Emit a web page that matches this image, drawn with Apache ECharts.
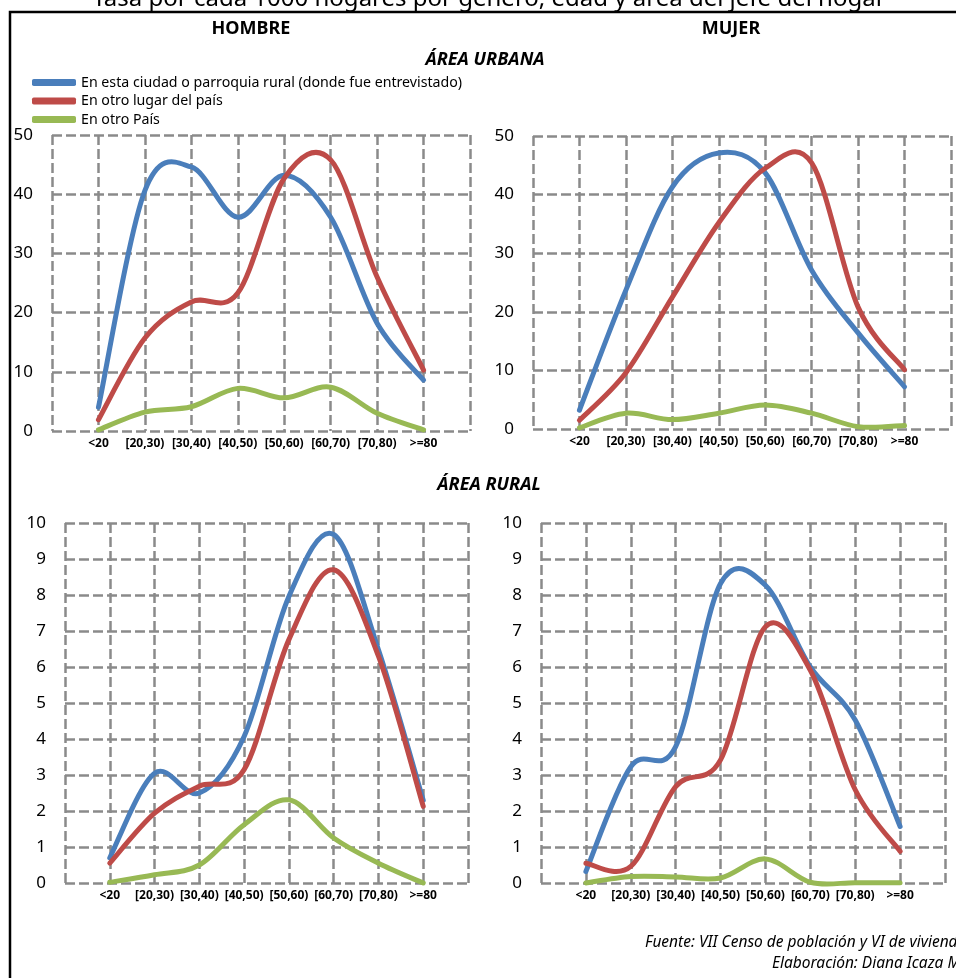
<!DOCTYPE html>
<html>
<head>
<meta charset="utf-8">
<script src="https://cdn.jsdelivr.net/npm/echarts@6/dist/echarts.min.js"></script>
<style>
html,body{margin:0;padding:0;background:#fff;}
#chart{width:956px;height:978px;}
</style>
</head>
<body>
<div id="chart"></div>
<script>
const categories = ['<20', '[20,30)', '[30,40)', '[40,50)', '[50,60)', '[60,70)', '[70,80)', '>=80'];
const seriesNames = ['En esta ciudad o parroquia rural (donde fue entrevistado)', 'En otro lugar del país', 'En otro País'];
const seriesColors = ['#4a7ebb', '#be4b48', '#98b954'];

// ÁREA URBANA - HOMBRE
const urbanMenHere    = [4.0, 40.6, 44.6, 36.1, 43.2, 36.1, 18.2, 8.6];
const urbanMenCountry = [1.9, 15.7, 21.8, 23.3, 42.7, 45.8, 26.0, 10.3];
const urbanMenAbroad  = [0.2, 3.2, 4.1, 7.2, 5.6, 7.4, 3.0, 0.2];
// ÁREA URBANA - MUJER
const urbanWomenHere    = [3.2, 23.7, 41.3, 47.1, 43.7, 27.1, 16.4, 7.2];
const urbanWomenCountry = [1.5, 9.6, 22.5, 35.2, 44.5, 45.4, 20.8, 10.1];
const urbanWomenAbroad  = [0.2, 2.7, 1.6, 2.7, 4.1, 2.7, 0.4, 0.6];
// ÁREA RURAL - HOMBRE
const ruralMenHere    = [0.70, 3.05, 2.50, 4.07, 7.96, 9.68, 6.48, 2.30];
const ruralMenCountry = [0.55, 1.94, 2.69, 3.15, 6.76, 8.70, 6.30, 2.13];
const ruralMenAbroad  = [0.02, 0.23, 0.50, 1.62, 2.31, 1.25, 0.55, 0.00];
// ÁREA RURAL - MUJER
const ruralWomenHere    = [0.32, 3.23, 3.79, 8.32, 8.27, 6.00, 4.53, 1.57];
const ruralWomenCountry = [0.55, 0.46, 2.68, 3.42, 7.12, 5.91, 2.59, 0.88];
const ruralWomenAbroad  = [0.00, 0.18, 0.17, 0.14, 0.67, 0.02, 0.01, 0.01];

const urbanTicks = { min: 0, max: 50, interval: 10 };
const ruralTicks = { min: 0, max: 10, interval: 1 };

const panels = [
  { grid: { left: 52, top: 135, width: 418, height: 296 }, ticks: urbanTicks, data: [urbanMenHere, urbanMenCountry, urbanMenAbroad] },
  { grid: { left: 533, top: 136, width: 418, height: 293 }, ticks: urbanTicks, data: [urbanWomenHere, urbanWomenCountry, urbanWomenAbroad] },
  { grid: { left: 65, top: 523, width: 403, height: 360 }, ticks: ruralTicks, data: [ruralMenHere, ruralMenCountry, ruralMenAbroad] },
  { grid: { left: 541, top: 523, width: 404, height: 360 }, ticks: ruralTicks, data: [ruralWomenHere, ruralWomenCountry, ruralWomenAbroad] }
];

const gridLine = { color: '#8a8a8a', width: 2.5, type: [10, 4] };
const FONT = 'Noto Sans';

// Smoothed line (spreadsheet-style Catmull-Rom bezier) drawn through the data points
function makeSmoothRenderer(color) {
  return function (params, api) {
    if (params.dataIndex !== 0) return null;
    const n = params.dataInsideLength;
    const pts = [];
    for (let i = 0; i < n; i++) pts.push(api.coord([api.value(0, i), api.value(1, i)]));
    let d = 'M' + pts[0][0] + ' ' + pts[0][1];
    for (let i = 0; i < pts.length - 1; i++) {
      const p0 = pts[Math.max(i - 1, 0)], p1 = pts[i], p2 = pts[i + 1], p3 = pts[Math.min(i + 2, pts.length - 1)];
      const c1x = p1[0] + (p2[0] - p0[0]) / 6, c1y = p1[1] + (p2[1] - p0[1]) / 6;
      const c2x = p2[0] - (p3[0] - p1[0]) / 6, c2y = p2[1] - (p3[1] - p1[1]) / 6;
      d += ' C' + c1x + ' ' + c1y + ' ' + c2x + ' ' + c2y + ' ' + p2[0] + ' ' + p2[1];
    }
    return {
      type: 'path',
      shape: { pathData: d },
      style: { stroke: color, lineWidth: 5, fill: null, lineCap: 'round', lineJoin: 'round' },
      silent: true
    };
  };
}

const grids = [], xAxes = [], yAxes = [], series = [];
panels.forEach((p, k) => {
  grids.push(Object.assign({ containLabel: false }, p.grid));
  xAxes.push({
    type: 'value', gridIndex: k, min: 0, max: categories.length + 1, interval: 1,
    axisLine: { show: false }, axisTick: { show: false },
    splitLine: { show: true, lineStyle: gridLine },
    axisLabel: {
      margin: 7, color: '#000', fontFamily: FONT, fontWeight: 'bold', fontSize: 12,
      formatter: v => categories[v - 1] || ''
    }
  });
  yAxes.push({
    type: 'value', gridIndex: k, min: p.ticks.min, max: p.ticks.max, interval: p.ticks.interval,
    axisLine: { show: false }, axisTick: { show: false },
    splitLine: { show: true, lineStyle: gridLine },
    axisLabel: { margin: 19, color: '#000', fontFamily: FONT, fontSize: 17 }
  });
  p.data.forEach((vals, s) => {
    series.push({
      name: seriesNames[s], type: 'custom', xAxisIndex: k, yAxisIndex: k,
      renderItem: makeSmoothRenderer(seriesColors[s]),
      itemStyle: { color: seriesColors[s] },
      encode: { x: 0, y: 1 },
      data: vals.map((v, i) => [i + 1, v])
    });
  });
});

const chart = echarts.init(document.getElementById('chart'), null, { renderer: 'canvas' });
chart.setOption({
  animation: false,
  backgroundColor: '#ffffff',
  textStyle: { fontFamily: FONT },
  grid: grids, xAxis: xAxes, yAxis: yAxes, series: series,
  legend: {
    orient: 'vertical', left: 32, top: 75, padding: 0,
    itemWidth: 44, itemHeight: 7, itemGap: 3.5, icon: 'roundRect',
    textStyle: { fontFamily: FONT, fontSize: 14.2, color: '#000', lineHeight: 15 },
    data: seriesNames.map(n => ({ name: n, icon: 'roundRect' }))
  },
  graphic: [
    { type: 'polyline', silent: true, shape: { points: [[10, 990], [10, 12], [970, 12]] }, style: { stroke: '#000', lineWidth: 2.5, fill: null } },
    { type: 'text', style: { text: 'Tasa por cada 1000 hogares por género, edad y área del jefe del hogar', x: 489, y: -1, align: 'center', verticalAlign: 'middle', font: '24px "Noto Sans"', fill: '#000' } },
    { type: 'text', style: { text: 'HOMBRE', x: 251, y: 29, align: 'center', verticalAlign: 'middle', font: 'bold 18px "Noto Sans"', fill: '#000' } },
    { type: 'text', style: { text: 'MUJER', x: 731, y: 29, align: 'center', verticalAlign: 'middle', font: 'bold 18px "Noto Sans"', fill: '#000' } },
    { type: 'text', style: { text: 'ÁREA URBANA', x: 485, y: 60, align: 'center', verticalAlign: 'middle', font: 'italic bold 18px "Noto Sans"', fill: '#000' } },
    { type: 'text', style: { text: 'ÁREA RURAL', x: 489, y: 485, align: 'center', verticalAlign: 'middle', font: 'italic bold 18px "Noto Sans"', fill: '#000' } },
    { type: 'text', style: { text: 'Fuente: VII Censo de población y VI de vivienda', x: 645, y: 943, align: 'left', verticalAlign: 'middle', font: 'italic 15.5px "Noto Sans"', fill: '#000' } },
    { type: 'text', style: { text: 'Elaboración: Diana Icaza M', x: 772, y: 964, align: 'left', verticalAlign: 'middle', font: 'italic 15.5px "Noto Sans"', fill: '#000' } }
  ]
});
</script>
</body>
</html>
